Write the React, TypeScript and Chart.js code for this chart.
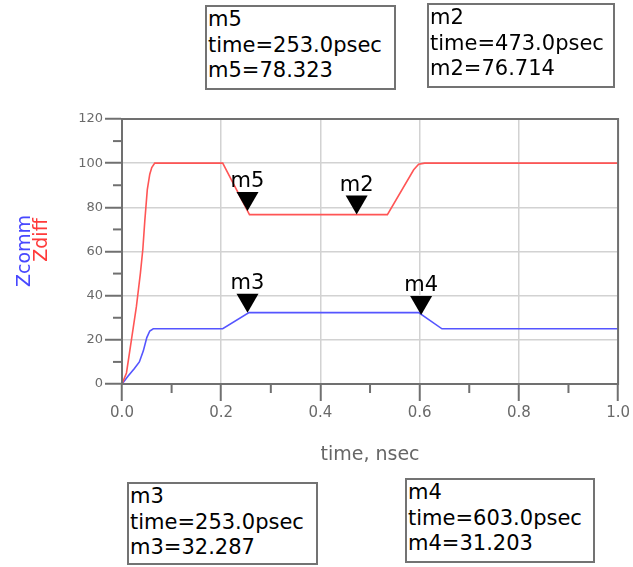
import React, { useEffect, useRef } from 'react';
import { Chart, registerables } from 'chart.js';

Chart.register(...registerables);

// Zdiff (red) trace, time in nsec
const zdiffTime = [0, 0.009, 0.019, 0.029, 0.037, 0.042, 0.046, 0.051, 0.056, 0.06, 0.066, 0.203, 0.257, 0.535, 0.588, 0.598, 0.61, 1.0];
const zdiffValue = [0, 5, 20, 35, 50, 61, 74, 88, 95, 98, 100, 100, 76.7, 76.7, 97, 99.5, 100, 100];

// Zcomm (blue) trace
const zcommTime = [0, 0.012, 0.025, 0.035, 0.043, 0.05, 0.056, 0.063, 0.203, 0.256, 0.598, 0.645, 1.0];
const zcommValue = [0, 3.5, 7, 10, 15, 21, 24, 25, 25, 32.3, 32.3, 25, 25];

// markers
const markerNames = ['m5', 'm2', 'm3', 'm4'];
const markerTimes = [0.253, 0.473, 0.253, 0.603];
const markerValues = [78.323, 76.714, 32.287, 31.203];

// tick labels
const xTickLabels = ['0.0', '0.2', '0.4', '0.6', '0.8', '1.0'];
const yTickLabels = ['0', '20', '40', '60', '80', '100', '120'];

const FONT = '"DejaVu Sans", "Liberation Sans", sans-serif';

const decorPlugin = {
  id: 'decor',
  afterDraw(chart: any) {
    const { ctx, chartArea: a, scales } = chart;
    const x = scales.x;
    const y = scales.y;
    ctx.save();
    ctx.strokeStyle = '#707070';
    ctx.lineWidth = 2;
    // minor ticks
    x.ticks.forEach((t: any, i: number) => {
      if (i % 2 === 1) {
        const px = x.getPixelForValue(t.value);
        ctx.beginPath();
        ctx.moveTo(px, a.bottom);
        ctx.lineTo(px, a.bottom + 9);
        ctx.stroke();
      }
    });
    y.ticks.forEach((t: any, i: number) => {
      if (i % 2 === 1) {
        const py = y.getPixelForValue(t.value);
        ctx.beginPath();
        ctx.moveTo(a.left - 9, py);
        ctx.lineTo(a.left, py);
        ctx.stroke();
      }
    });
    // frame
    ctx.strokeRect(a.left, a.top, a.right - a.left, a.bottom - a.top);
    // markers
    markerNames.forEach((name, i) => {
      const px = x.getPixelForValue(markerTimes[i]);
      const py = y.getPixelForValue(markerValues[i]);
      ctx.fillStyle = '#000';
      ctx.beginPath();
      ctx.moveTo(px, py);
      ctx.lineTo(px - 11, py - 19);
      ctx.lineTo(px + 11, py - 19);
      ctx.closePath();
      ctx.fill();
      ctx.font = `21px ${FONT}`;
      ctx.textAlign = 'center';
      ctx.textBaseline = 'alphabetic';
      ctx.fillText(name, px, py - 24);
    });
    ctx.restore();
  },
};

const boxLayout = [
  { left: 205, top: 5, width: 191, height: 85 },
  { left: 427, top: 3, width: 188, height: 85 },
  { left: 127, top: 482, width: 191, height: 83 },
  { left: 405, top: 478, width: 190, height: 85 },
];

export default function App() {
  const ref = useRef<HTMLCanvasElement | null>(null);

  useEffect(() => {
    if (!ref.current) return;
    const chart = new Chart(ref.current, {
      type: 'line',
      data: {
        datasets: [
          {
            label: 'Zdiff',
            data: zdiffTime.map((t, i) => ({ x: t, y: zdiffValue[i] })),
            borderColor: 'rgb(255, 85, 85)',
            borderWidth: 1.6,
            pointRadius: 0,
            tension: 0,
          },
          {
            label: 'Zcomm',
            data: zcommTime.map((t, i) => ({ x: t, y: zcommValue[i] })),
            borderColor: 'rgb(85, 85, 255)',
            borderWidth: 1.6,
            pointRadius: 0,
            tension: 0,
          },
        ],
      },
      options: {
        animation: false,
        responsive: false,
        layout: { padding: { left: 0, top: 119, right: 14, bottom: 83 } },
        plugins: { legend: { display: false }, tooltip: { enabled: false } },
        scales: {
          x: {
            type: 'linear',
            min: 0,
            max: 1,
            afterFit: (s: any) => {
              s.height = 100;
            },
            ticks: {
              stepSize: 0.1,
              autoSkip: false,
              maxRotation: 0,
              padding: 3,
              color: '#6a6a6a',
              font: { family: FONT, size: 15 },
              callback: (_v: any, i: number) => (i % 2 === 0 ? xTickLabels[i / 2] : ''),
            },
            grid: {
              color: (c: any) => (c.index % 2 === 0 ? '#d2d2d2' : 'rgba(0,0,0,0)'),
              lineWidth: 1.5,
              tickLength: 17,
              tickColor: (c: any) => (c.index % 2 === 0 ? '#707070' : 'rgba(0,0,0,0)'),
              tickWidth: 2,
            },
            border: { display: true, color: '#707070', width: 2 },
          },
          y: {
            type: 'linear',
            min: 0,
            max: 120,
            afterFit: (s: any) => {
              s.width = 122;
            },
            ticks: {
              stepSize: 10,
              autoSkip: false,
              padding: 2,
              color: '#6a6a6a',
              font: { family: FONT, size: 13 },
              callback: (_v: any, i: number) => (i % 2 === 0 ? yTickLabels[i / 2] : ''),
            },
            grid: {
              color: (c: any) => (c.index % 2 === 0 ? '#d2d2d2' : 'rgba(0,0,0,0)'),
              lineWidth: 1.5,
              tickLength: 17,
              tickColor: (c: any) => (c.index % 2 === 0 ? '#707070' : 'rgba(0,0,0,0)'),
              tickWidth: 2,
            },
            border: { display: true, color: '#707070', width: 2 },
          },
        },
      },
      plugins: [decorPlugin],
    });
    return () => chart.destroy();
  }, []);

  return (
    <div style={{ position: 'fixed', left: 0, top: 0, width: 633, height: 567, background: '#fff', overflow: 'hidden' }}>
      <canvas ref={ref} width={633} height={567} style={{ position: 'absolute', left: 0, top: 0, width: 633, height: 567 }} />
      <div
        style={{
          position: 'absolute', left: 370, top: 453, transform: 'translate(-50%, -50%)',
          font: `19px ${FONT}`, color: '#666', whiteSpace: 'nowrap', lineHeight: '22px',
        }}
      >
        time, nsec
      </div>
      <div
        style={{
          position: 'absolute', left: 23, top: 251, transform: 'translate(-50%, -50%) rotate(-90deg)',
          font: `19px ${FONT}`, color: '#4848ff', whiteSpace: 'nowrap', lineHeight: '19px',
        }}
      >
        Zcomm
      </div>
      <div
        style={{
          position: 'absolute', left: 40, top: 240, transform: 'translate(-50%, -50%) rotate(-90deg)',
          font: `19px ${FONT}`, color: '#ff3a3a', whiteSpace: 'nowrap', lineHeight: '19px',
        }}
      >
        Zdiff
      </div>
      {markerNames.map((name, i) => (
        <div
          key={name}
          style={{
            position: 'absolute', boxSizing: 'border-box', ...boxLayout[i],
            border: '2px solid #737373', background: '#fff', color: '#000',
            font: `21px ${FONT}`, lineHeight: '25.5px', paddingLeft: 1, whiteSpace: 'nowrap', overflow: 'hidden',
          }}
        >
          <div>{name}</div>
          <div>{`time=${(markerTimes[i] * 1000).toFixed(1)}psec`}</div>
          <div>{`${name}=${markerValues[i].toFixed(3)}`}</div>
        </div>
      ))}
    </div>
  );
}
